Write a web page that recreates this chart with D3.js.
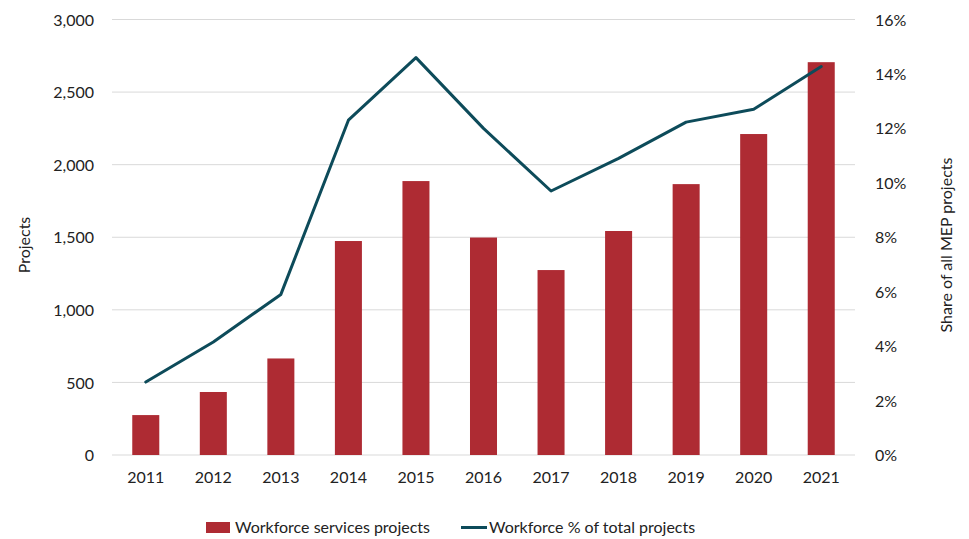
<!DOCTYPE html>
<html>
<head>
<meta charset="utf-8">
<script src="https://cdn.jsdelivr.net/npm/d3@7"></script>
<style>
  body { margin: 0; background: #fff; }
  text { font-family: Lato, "Open Sans", sans-serif; fill: #222; }
</style>
</head>
<body>
<div id="chart"></div>
<script>
// Data
let years = ['2011', '2012', '2013', '2014', '2015', '2016', '2017', '2018', '2019', '2020', '2021'];
let projects = [275, 434, 665, 1474, 1887, 1498, 1274, 1543, 1866, 2211, 2706];
let sharePct = [2.68, 4.15, 5.9, 12.3, 14.6, 12.0, 9.7, 10.9, 12.23, 12.7, 14.27];
let leftTicks = [0, 500, 1000, 1500, 2000, 2500, 3000];
let rightTicks = [0, 2, 4, 6, 8, 10, 12, 14, 16];

let W = 969, H = 539;
let plotLeft = 112, plotRight = 855, plotTop = 19.5, plotBottom = 455;
let barColor = '#ae2b33';
let lineColor = '#0d4b5a';

let svg = d3.select('#chart').append('svg')
    .attr('width', W)
    .attr('height', H);

let x = d3.scaleBand().domain(years).range([plotLeft, plotRight]).paddingInner(0.6).paddingOuter(0.3);
let yL = d3.scaleLinear().domain([0, 3000]).range([plotBottom, plotTop]);
let yR = d3.scaleLinear().domain([0, 16]).range([plotBottom, plotTop]);

// gridlines
svg.append('g')
    .selectAll('line')
    .data(leftTicks)
    .join('line')
    .attr('x1', plotLeft)
    .attr('x2', plotRight)
    .attr('y1', d => yL(d))
    .attr('y2', d => yL(d))
    .attr('stroke', '#d9d9d9')
    .attr('stroke-width', 1);

// left axis
let axL = svg.append('g')
    .attr('transform', `translate(${plotLeft - 18}, 0)`)
    .call(d3.axisLeft(yL).tickValues(leftTicks).tickFormat(d3.format(',')).tickSize(0).tickPadding(0));
axL.select('.domain').remove();
axL.selectAll('text').style('font-size', '16px').attr('dy', '0.35em');

// right axis
let axR = svg.append('g')
    .attr('transform', `translate(${plotRight + 20}, 0)`)
    .call(d3.axisRight(yR).tickValues(rightTicks).tickFormat(d => d + '%').tickSize(0).tickPadding(0));
axR.select('.domain').remove();
axR.selectAll('text').style('font-size', '16px').attr('dy', '0.35em');

// x axis
let axX = svg.append('g')
    .attr('transform', `translate(0, ${plotBottom})`)
    .call(d3.axisBottom(x).tickSize(0).tickPadding(17));
axX.select('.domain').remove();
axX.selectAll('text').style('font-size', '16px');

// bars
svg.append('g')
    .selectAll('rect')
    .data(projects)
    .join('rect')
    .attr('x', (d, i) => x(years[i]))
    .attr('y', d => yL(d))
    .attr('width', x.bandwidth())
    .attr('height', d => yL(0) - yL(d))
    .attr('fill', barColor);

// line
let line = d3.line()
    .x((d, i) => x(years[i]) + x.bandwidth() / 2)
    .y(d => yR(d));

svg.append('path')
    .datum(sharePct)
    .attr('d', line)
    .attr('fill', 'none')
    .attr('stroke', lineColor)
    .attr('stroke-width', 3)
    .attr('stroke-linejoin', 'round')
    .attr('stroke-linecap', 'round');

// axis titles
svg.append('text')
    .attr('transform', `translate(30, 245) rotate(-90)`)
    .attr('text-anchor', 'middle')
    .style('font-size', '16px')
    .text('Projects');

svg.append('text')
    .attr('transform', `translate(952, 245) rotate(-90)`)
    .attr('text-anchor', 'middle')
    .style('font-size', '16px')
    .text('Share of all MEP projects');

// legend
let leg = svg.append('g');
leg.append('rect')
    .attr('x', 206)
    .attr('y', 522)
    .attr('width', 24)
    .attr('height', 11)
    .attr('fill', barColor);
leg.append('text')
    .attr('x', 235)
    .attr('y', 527.5)
    .attr('dy', '0.35em')
    .style('font-size', '16px')
    .text('Workforce services projects');
leg.append('line')
    .attr('x1', 461)
    .attr('x2', 487)
    .attr('y1', 527.5)
    .attr('y2', 527.5)
    .attr('stroke', lineColor)
    .attr('stroke-width', 3);
leg.append('text')
    .attr('x', 489)
    .attr('y', 527.5)
    .attr('dy', '0.35em')
    .style('font-size', '16px')
    .text('Workforce % of total projects');
</script>
</body>
</html>
